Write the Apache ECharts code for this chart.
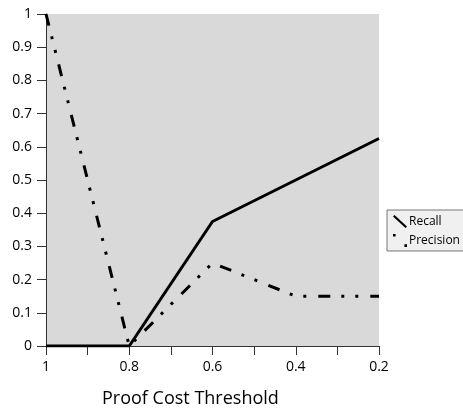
<!DOCTYPE html>
<html>
<head>
<meta charset="utf-8">
<script src="https://cdn.jsdelivr.net/npm/echarts@6/dist/echarts.min.js"></script>
<style>
html,body{margin:0;padding:0;background:#fff;}
#c{width:463px;height:417px;}
</style>
</head>
<body>
<div id="c"></div>
<script>
var thresholds = [1, 0.8, 0.6, 0.4, 0.2];
var recall = [0, 0, 0.375, 0.5, 0.625];
var precision = [1, 0, 0.25, 0.15, 0.15];
var xTickLabels = ['1', '0.8', '0.6', '0.4', '0.2'];
var yTickLabels = ['0', '0.1', '0.2', '0.3', '0.4', '0.5', '0.6', '0.7', '0.8', '0.9', '1'];

function pairs(xs, ys) { return xs.map(function (x, i) { return [x, ys[i]]; }); }

var FONT = 'Open Sans';
var chart = echarts.init(document.getElementById('c'), null, { renderer: 'canvas' });
chart.setOption({
  animation: false,
  backgroundColor: '#ffffff',
  textStyle: { fontFamily: FONT },
  title: {
    text: 'Proof Cost Threshold',
    left: 102, top: 390,
    padding: 0,
    textStyle: { fontFamily: FONT, fontSize: 18, fontWeight: 'normal', color: '#000' }
  },
  grid: {
    left: 46, right: 84, top: 14, bottom: 71,
    show: true, backgroundColor: '#d9d9d9', borderWidth: 0
  },
  legend: {
    orient: 'vertical',
    left: 387, top: 210,
    padding: [5, 4, 4, 6],
    itemGap: 6,
    itemWidth: 14, itemHeight: 13,
    borderColor: '#777', borderWidth: 1,
    backgroundColor: '#f0f0f0',
    textStyle: { fontFamily: FONT, fontSize: 12, color: '#000', padding: [0, 0, 0, -3] },
    data: [
      { name: 'Recall', icon: 'path://M0,1.5 L1.5,0 L14,11.5 L12.5,13 Z' },
      { name: 'Precision', icon: 'path://M0,0 h2.5 v2.5 h-2.5 Z M11,10 h2.5 v2.5 h-2.5 Z' }
    ]
  },
  xAxis: {
    type: 'value',
    min: 0.2, max: 1, interval: 0.1, inverse: true,
    axisLine: { show: true, lineStyle: { color: '#333', width: 1 } },
    axisTick: { show: true, length: 9, lineStyle: { color: '#333', width: 1 } },
    splitLine: { show: false },
    axisLabel: {
      margin: 14,
      fontFamily: FONT, fontSize: 14, color: '#000',
      formatter: function (v) {
        var k = Math.round(v * 10);
        if (k % 2 !== 0) return '';
        return xTickLabels[thresholds.indexOf(k / 10)] || '';
      }
    }
  },
  yAxis: {
    type: 'value',
    min: 0, max: 1, interval: 0.1,
    axisLine: { show: true, lineStyle: { color: '#333', width: 1 } },
    axisTick: { show: true, length: 9, lineStyle: { color: '#333', width: 1 } },
    splitLine: { show: false },
    axisLabel: {
      margin: 14,
      fontFamily: FONT, fontSize: 14, color: '#000',
      formatter: function (v) { return yTickLabels[Math.round(v * 10)]; }
    }
  },
  series: [
    {
      name: 'Precision', type: 'line',
      data: pairs(thresholds, precision),
      symbol: 'none', color: '#000',
      lineStyle: { color: '#000', width: 3, type: [12, 11, 3, 11, 3, 12] },
      z: 2
    },
    {
      name: 'Recall', type: 'line',
      data: pairs(thresholds, recall),
      symbol: 'none', color: '#000',
      lineStyle: { color: '#000', width: 3, type: 'solid' },
      z: 3
    }
  ]
});
</script>
</body>
</html>
